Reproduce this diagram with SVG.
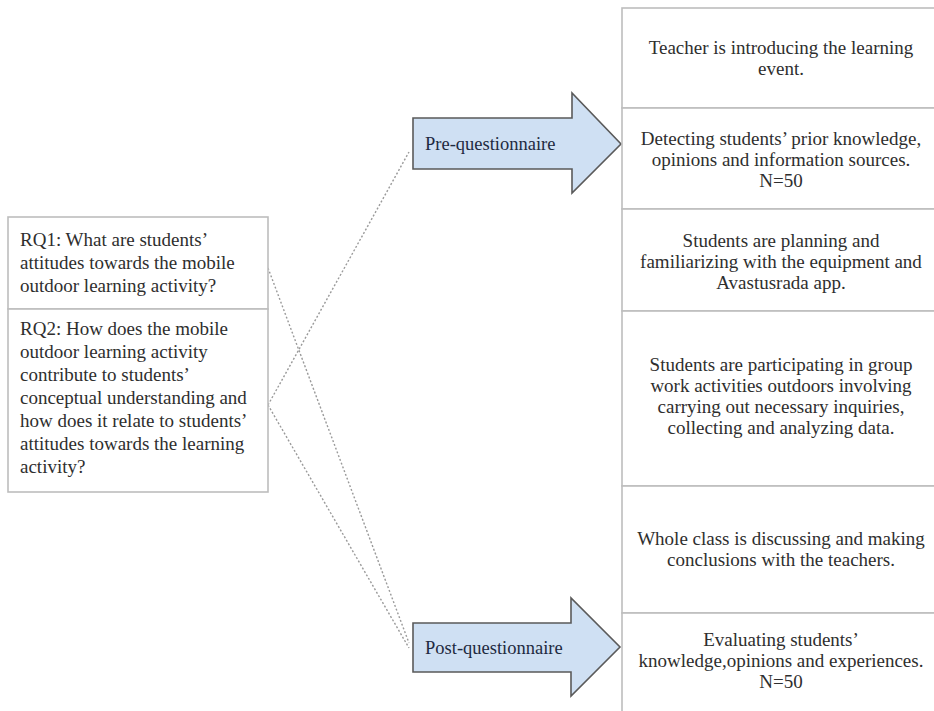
<svg xmlns="http://www.w3.org/2000/svg" width="934" height="711" viewBox="0 0 934 711">
<style>
.box{fill:#fff;stroke:#bdbdbd;stroke-width:1.6}
.arrow{fill:#cfe0f3;stroke:#5a5a5a;stroke-width:1.6}
.t{font-family:"Liberation Serif","Times New Roman",serif;font-size:19px;fill:#2e2e2e}
.c{text-anchor:middle}
.a{font-family:"Liberation Serif","Times New Roman",serif;font-size:18.5px;fill:#1e2a3f}
.dot{fill:none;stroke:#9a9a9a;stroke-width:1.4;stroke-dasharray:2 2}
</style>
<rect width="934" height="711" fill="#fff"/>
<g id="connectors">
<line class="dot" x1="268" y1="268" x2="409" y2="643"/>
<line class="dot" x1="268" y1="405" x2="409" y2="152"/>
<line class="dot" x1="268" y1="405" x2="409" y2="648"/>
</g>
<g id="rq1">
<rect class="box" x="8" y="217" width="260" height="92"/>
<text class="t" x="20" y="246">RQ1: What are students’</text>
<text class="t" x="20" y="269">attitudes towards the mobile</text>
<text class="t" x="20" y="292">outdoor learning activity?</text>
</g>
<g id="rq2">
<rect class="box" x="8" y="309" width="260" height="183"/>
<text class="t" x="20" y="335">RQ2: How does the mobile</text>
<text class="t" x="20" y="358">outdoor learning activity</text>
<text class="t" x="20" y="381">contribute to students’</text>
<text class="t" x="20" y="404">conceptual understanding and</text>
<text class="t" x="20" y="427">how does it relate to students’</text>
<text class="t" x="20" y="450">attitudes towards the learning</text>
<text class="t" x="20" y="473">activity?</text>
</g>
<g id="pre">
<path class="arrow" d="M413,118 H572 V93 L621,144 L572,193 V169 H413 Z"/>
<text class="a" x="425" y="150">Pre-questionnaire</text>
</g>
<g id="post">
<path class="arrow" d="M413,623 H571 V598 L620,647 L571,696 V672 H413 Z"/>
<text class="a" x="425" y="654">Post-questionnaire</text>
</g>
<g id="step1">
<rect class="box" x="622" y="8" width="320" height="100"/>
<text class="t c" x="781" y="54">Teacher is introducing the learning</text>
<text class="t c" x="781" y="75">event.</text>
</g>
<g id="step2">
<rect class="box" x="622" y="108" width="320" height="101"/>
<text class="t c" x="781" y="145">Detecting students’ prior knowledge,</text>
<text class="t c" x="781" y="166">opinions and information sources.</text>
<text class="t c" x="781" y="187">N=50</text>
</g>
<g id="step3">
<rect class="box" x="622" y="209" width="320" height="102"/>
<text class="t c" x="781" y="247">Students are planning and</text>
<text class="t c" x="781" y="268">familiarizing with the equipment and</text>
<text class="t c" x="781" y="289">Avastusrada app.</text>
</g>
<g id="step4">
<rect class="box" x="622" y="311" width="320" height="175"/>
<text class="t c" x="781" y="371">Students are participating in group</text>
<text class="t c" x="781" y="392">work activities outdoors involving</text>
<text class="t c" x="781" y="413">carrying out necessary inquiries,</text>
<text class="t c" x="781" y="434">collecting and analyzing data.</text>
</g>
<g id="step5">
<rect class="box" x="622" y="486" width="320" height="127"/>
<text class="t c" x="781" y="545">Whole class is discussing and making</text>
<text class="t c" x="781" y="566">conclusions with the teachers.</text>
</g>
<g id="step6">
<rect class="box" x="622" y="613" width="320" height="110"/>
<text class="t c" x="781" y="646">Evaluating students’</text>
<text class="t c" x="781" y="667">knowledge,opinions and experiences.</text>
<text class="t c" x="781" y="688">N=50</text>
</g>
</svg>
